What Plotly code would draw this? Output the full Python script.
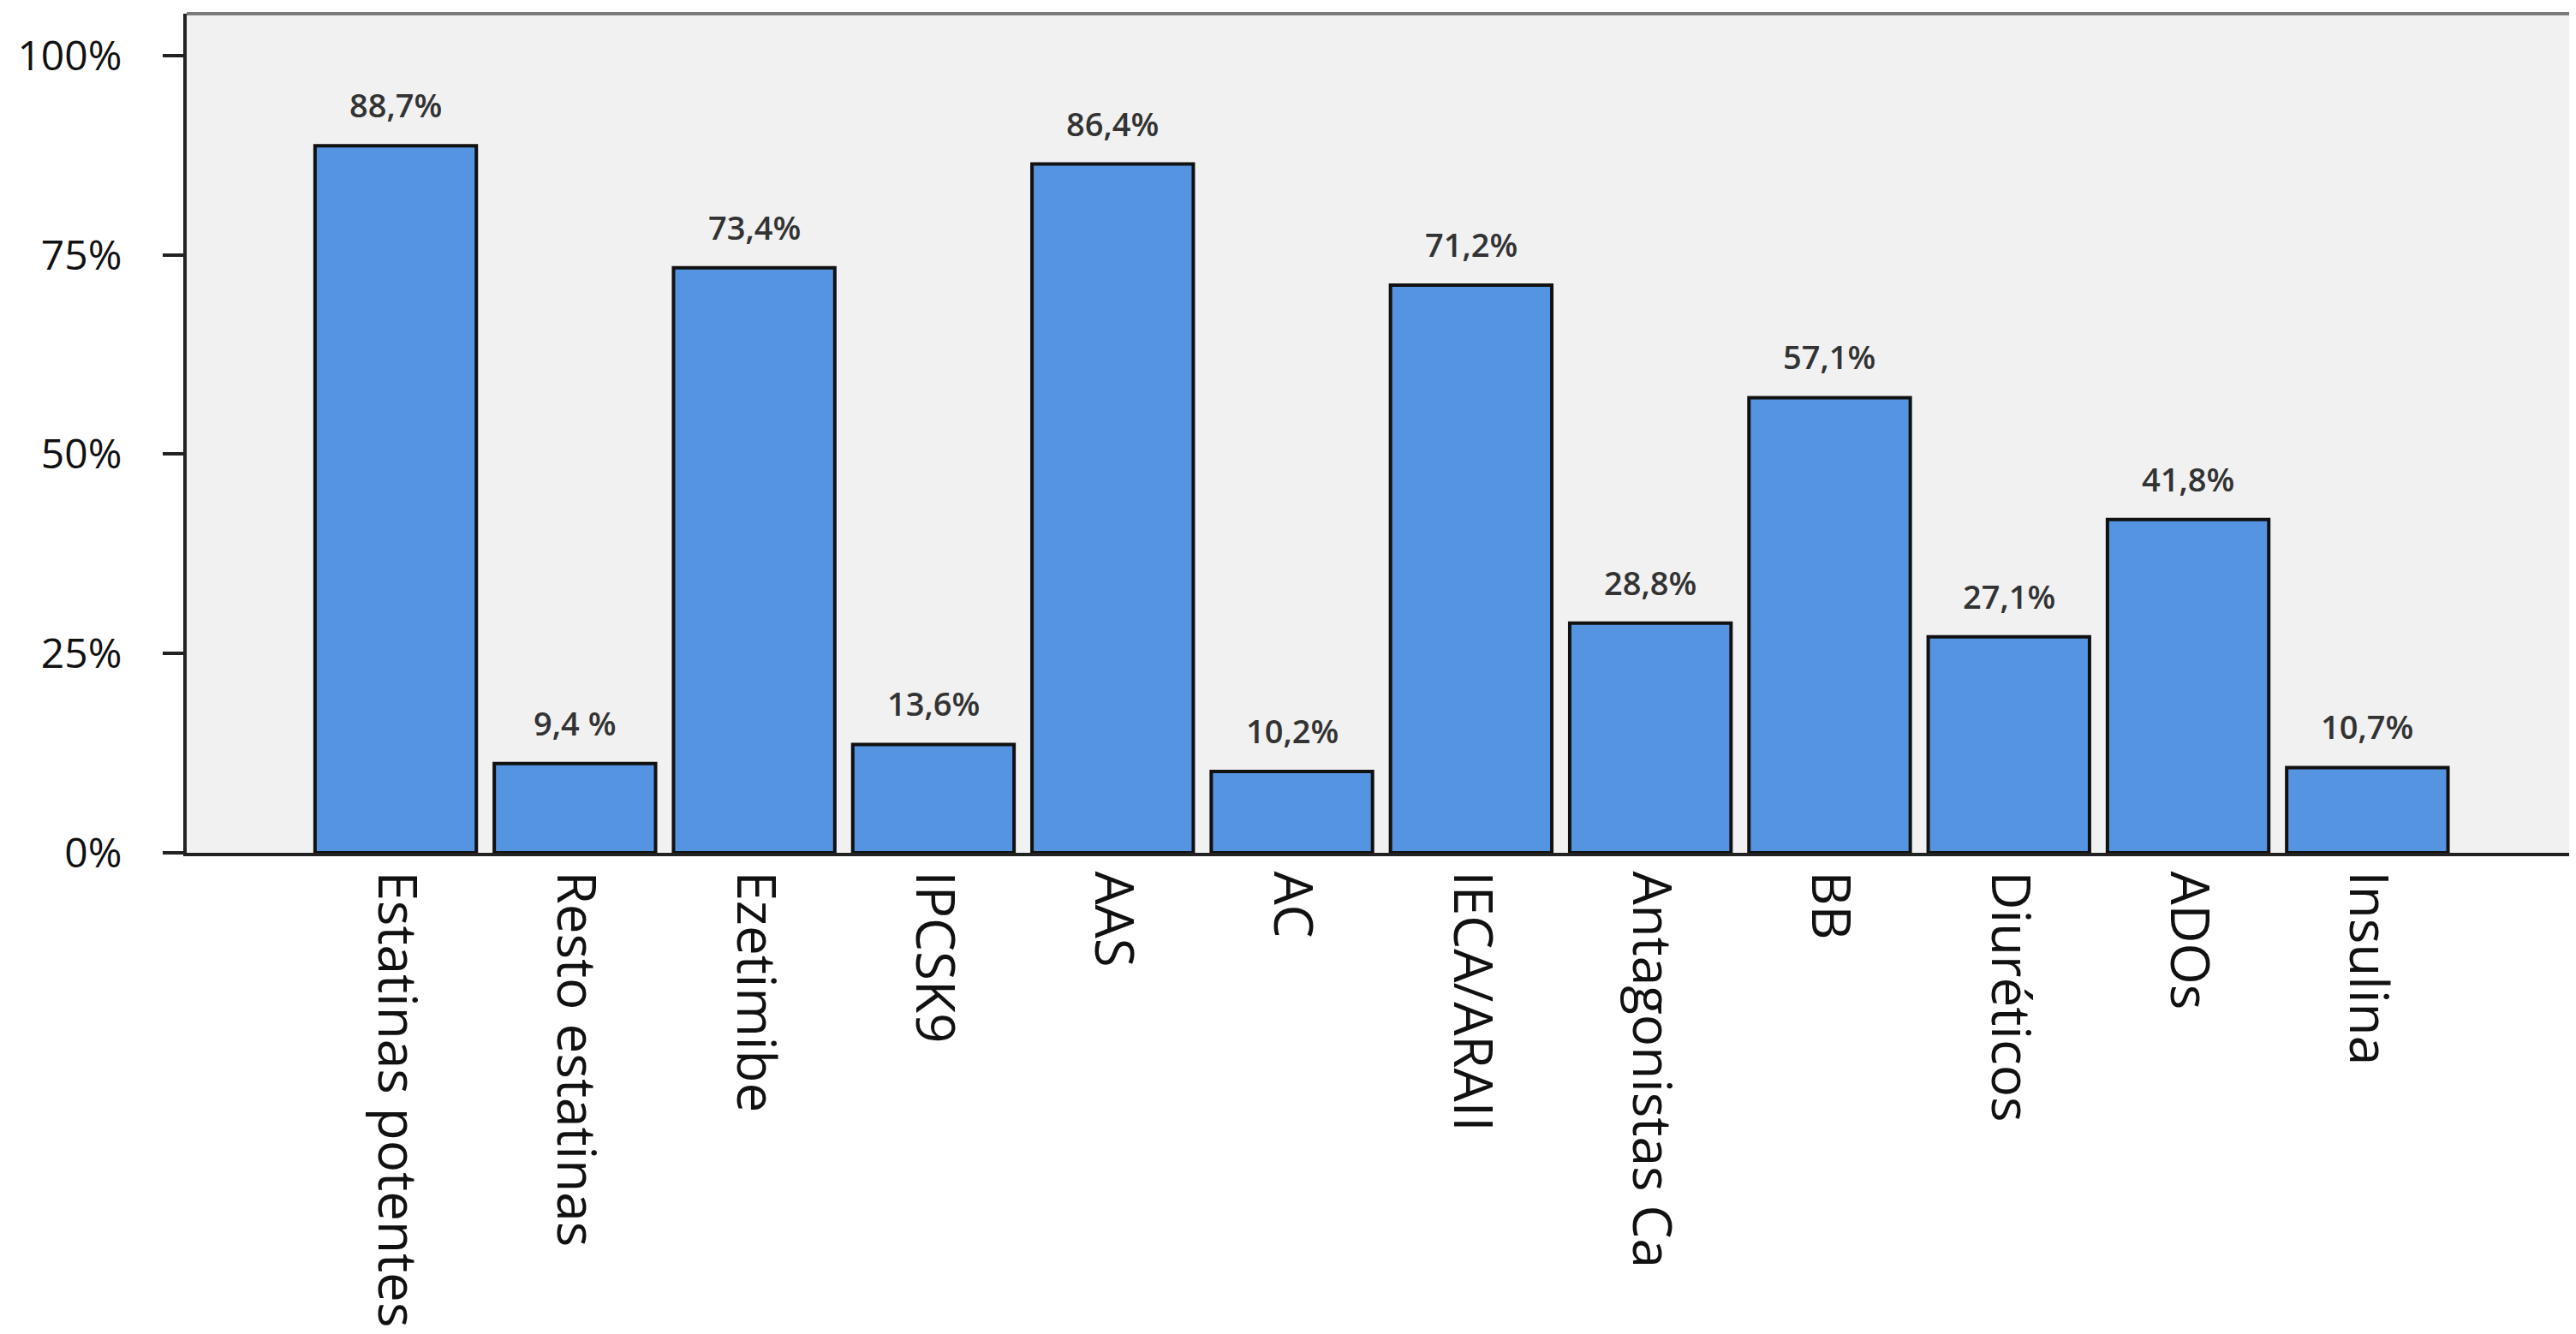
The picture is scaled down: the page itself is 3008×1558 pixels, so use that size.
import plotly.graph_objects as go

categories = ["Estatinas potentes", "Resto estatinas", "Ezetimibe", "IPCSK9", "AAS", "AC",
              "IECA/ARAII", "Antagonistas Ca", "BB", "Diuréticos", "ADOs", "Insulina"]
bar_values = [88.7, 11.2, 73.4, 13.6, 86.4, 10.2, 71.2, 28.8, 57.1, 27.1, 41.8, 10.7]
bar_labels = ["88,7%", "9,4 %", "73,4%", "13,6%", "86,4%", "10,2%", "71,2%", "28,8%",
              "57,1%", "27,1%", "41,8%", "10,7%"]
y_tickvals = [0, 25, 50, 75, 100]
y_ticktext = ["0%", "25%", "50%", "75%", "100%"]

fig = go.Figure()
fig.add_trace(go.Bar(
    x=categories, y=bar_values,
    marker=dict(color="#5594E0", line=dict(color="#111111", width=4)),
    width=0.9,
))

for cat, val, lab in zip(categories, bar_values, bar_labels):
    fig.add_annotation(
        x=cat, y=val, text=lab, showarrow=False,
        xref="x", yref="y", yanchor="bottom", yshift=20,
        font=dict(family="Open Sans", size=38, color="#333333", weight=600),
    )

fig.update_layout(
    width=3008, height=1558,
    margin=dict(l=210, r=12, t=8, b=570, pad=0),
    paper_bgcolor="white", plot_bgcolor="#F1F1F1",
    showlegend=False,
    font=dict(family="Open Sans", color="#111111"),
)
fig.update_xaxes(
    type="category", range=[-1.166, 12.145], automargin=False,
    showline=True, linecolor="#222222", linewidth=4,
    ticks="", tickangle=90, ticklabelstandoff=5,
    tickfont=dict(family="Open Sans", size=62, color="#111111"),
    showgrid=False, zeroline=False,
)
fig.update_yaxes(
    range=[0, 105.26], tickvals=y_tickvals, ticktext=y_ticktext, automargin=False,
    showline=True, linecolor="#222222", linewidth=4,
    ticks="outside", ticklen=24, tickwidth=4, tickcolor="#222222",
    ticklabelstandoff=38,
    tickfont=dict(family="Open Sans", size=48, color="#111111"),
    showgrid=False, zeroline=False,
)
# top and right frame lines (grey)
fig.add_shape(type="line", xref="paper", yref="paper", x0=0, x1=1, y0=1, y1=1,
              line=dict(color="#7A7A7A", width=4))
fig.add_shape(type="line", xref="paper", yref="paper", x0=1, x1=1, y0=0, y1=1,
              line=dict(color="#7A7A7A", width=4))

fig.write_html("out.html")
